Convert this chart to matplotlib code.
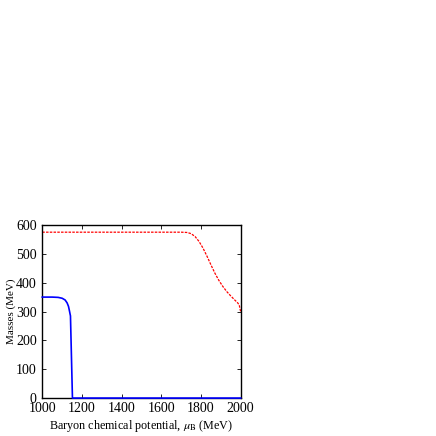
import matplotlib
matplotlib.use("Agg")
import matplotlib.pyplot as plt

plt.rcParams['font.family'] = ['Liberation Serif', 'DejaVu Serif']
plt.rcParams['mathtext.fontset'] = 'stix'

# quark mass (blue, solid)
mu_q = [1000, 1050, 1080, 1100, 1115, 1125, 1132, 1137, 1141, 1142, 1152, 1170, 1400, 1600, 1800, 2000]
m_q = [350, 350, 349, 346, 340, 330, 318, 302, 288, 285, 0, 0, 0, 0, 0, 0]

# baryon mass (red, dashed)
mu_b = [1000, 1200, 1400, 1600, 1700, 1730, 1750, 1770, 1790, 1810, 1830, 1850, 1870, 1890,
        1910, 1930, 1950, 1970, 1985, 1993, 1997, 2000]
m_b = [575, 575, 575, 575, 575, 574, 570, 560, 543, 520, 492, 462, 433, 408,
       387, 369, 354, 340, 330, 322, 308, 300]

fig = plt.figure(figsize=(4.36, 4.36), dpi=100)
ax = fig.add_axes([0.097, 0.087, 0.455, 0.397])

ax.plot(mu_q, m_q, color='blue', lw=1.2, clip_on=False, zorder=3)
ax.plot(mu_b, m_b, color='red', lw=0.9, ls=(0, (2, 1)))

ax.set_xlim(1000, 2000)
ax.set_ylim(0, 600)
ax.set_xticks([1000, 1200, 1400, 1600, 1800, 2000])
ax.set_yticks([0, 100, 200, 300, 400, 500, 600])
ax.tick_params(direction='in', top=True, right=True, labelsize=10, length=3, width=0.6)
ax.tick_params(axis='x', pad=3)
ax.tick_params(axis='y', pad=4)
for s in ax.spines.values():
    s.set_linewidth(1.0)

ax.set_xlabel(r'Baryon chemical potential, $\mu_{\rm B}$ (MeV)', fontsize=8.7, labelpad=2)
ax.set_ylabel('Masses (MeV)', fontsize=8, labelpad=0)

fig.savefig('out.png', dpi=100)
